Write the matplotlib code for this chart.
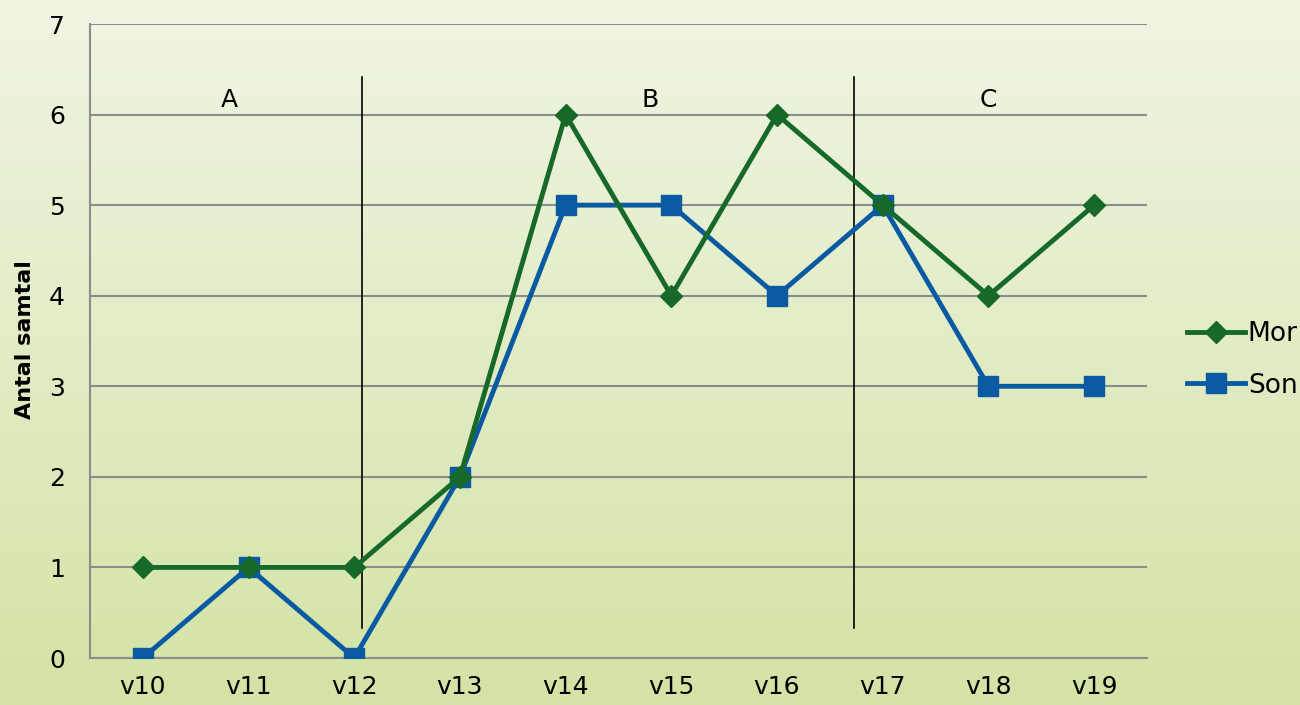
import matplotlib
matplotlib.use("Agg")
import matplotlib.pyplot as plt
import numpy as np
from matplotlib.colors import LinearSegmentedColormap

weeks = ["v10", "v11", "v12", "v13", "v14", "v15", "v16", "v17", "v18", "v19"]
mor = [1, 1, 1, 2, 6, 4, 6, 5, 4, 5]
son = [0, 1, 0, 2, 5, 5, 4, 5, 3, 3]
phase_labels = ["A", "B", "C"]
phase_label_x = [0.82, 4.8, 8.0]
phase_bounds = [2.07, 6.73]

green = "#17692a"
blue = "#0a5aa2"

fig = plt.figure(figsize=(13, 7.05), dpi=100)

# gradient background
bg = fig.add_axes([0, 0, 1, 1], zorder=-10)
cmap = LinearSegmentedColormap.from_list("bg", ["#f0f5e4", "#d3e3a5"])
grad = np.linspace(0, 1, 256).reshape(-1, 1)
bg.imshow(grad, aspect="auto", cmap=cmap, extent=[0, 1, 0, 1], origin="upper")
bg.axis("off")

ax = fig.add_axes([90 / 1300, 1 - 658 / 705, (1147 - 90) / 1300, (658 - 24) / 705])
ax.set_facecolor("none")
x = np.arange(len(weeks))

ax.plot(x, mor, color=green, lw=3.5, marker="D", markersize=11, label="Mor", zorder=4)
ax.plot(x, son, color=blue, lw=3.5, marker="s", markersize=15, label="Son", zorder=3)

ax.set_xlim(-0.5, 9.5)
ax.set_ylim(0, 7)
ax.set_yticks(range(0, 8))
ax.set_xticks(x)
ax.set_xticklabels(weeks)
ax.grid(axis="y", color="#8c8c8c", lw=1.5, zorder=0)
ax.set_axisbelow(True)
for s in ["top", "right"]:
    ax.spines[s].set_visible(False)
for s in ["left", "bottom"]:
    ax.spines[s].set_color("#8c8c8c")
    ax.spines[s].set_linewidth(1.5)
ax.tick_params(axis="both", length=0, labelsize=18, colors="black")
ax.tick_params(axis="y", pad=18)
ax.tick_params(axis="x", pad=12)

for b in phase_bounds:
    ax.plot([b, b], [0.33, 6.415], color="black", lw=1.2, zorder=2)
for lab, lx in zip(phase_labels, phase_label_x):
    ax.text(lx, 6.16, lab, fontsize=18, ha="center", va="center")

fig.text(25 / 1300, 1 - 340 / 705, "Antal samtal", fontsize=16, fontweight="bold",
         rotation=90, ha="center", va="center")

ax.legend(loc="center left", bbox_to_anchor=(1.038, 0.47), frameon=False,
          fontsize=19, handlelength=2.2, handletextpad=0.1, labelspacing=0.95,
          borderaxespad=0, borderpad=0)

fig.savefig("out.png", dpi=100)
